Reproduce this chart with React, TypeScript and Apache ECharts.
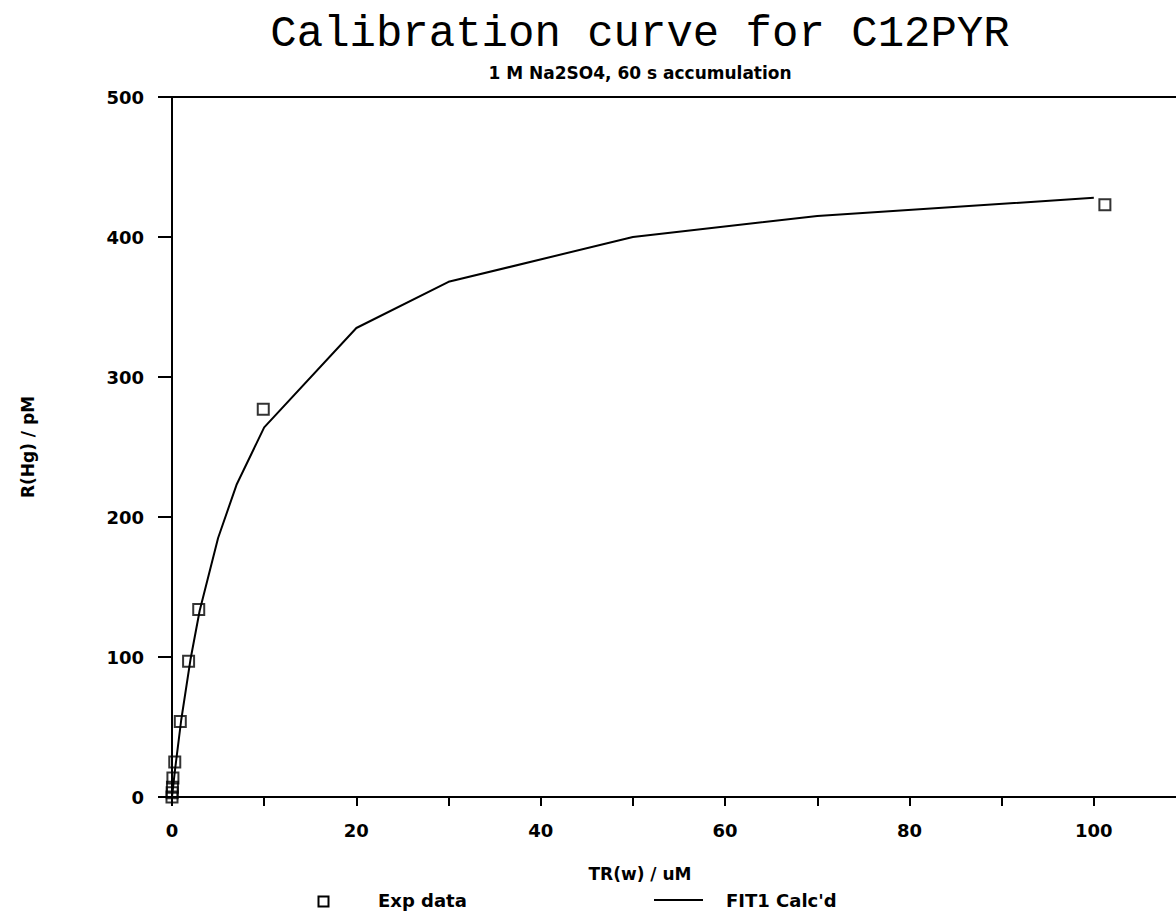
import React, { useEffect, useRef } from "react";
import * as echarts from "echarts";

// Experimental data (TR(w) in uM, R(Hg) in pM)
const expX = [101.2, 9.9, 2.9, 1.8, 0.9, 0.3, 0.1, 0.05, 0.02, 0];
const expY = [423, 277, 134, 97, 54, 25, 13.5, 7, 3, 0];

// FIT1 calculated curve
const fitX = [0, 0.3, 1, 2, 3, 5, 7, 10, 20, 30, 50, 70, 100];
const fitY = [0, 18, 55, 98, 133, 185, 223, 264, 335, 368, 400, 415, 428];

const xLabelValues = [0, 20, 40, 60, 80, 100];

const titleText = "Calibration curve for C12PYR";
const subtitleText = "1 M Na2SO4, 60 s accumulation";
const xName = "TR(w) / uM";
const yName = "R(Hg) / pM";
const legendExp = "Exp data";
const legendFit = "FIT1 Calc'd";

const SANS = "'DejaVu Sans', sans-serif";
const MONO = "'Liberation Mono', 'DejaVu Sans Mono', monospace";

export default function App() {
  const ref = useRef<HTMLDivElement>(null);

  useEffect(() => {
    if (!ref.current) return;
    const chart = echarts.init(ref.current, null, { renderer: "svg" });
    const labelStyle = {
      fontFamily: SANS,
      fontWeight: "bold" as const,
      fontSize: 18,
      color: "#000",
    };
    chart.setOption({
      animation: false,
      backgroundColor: "#fff",
      title: [
        {
          text: titleText,
          left: 640,
          top: 12,
          textAlign: "center",
          padding: 0,
          textStyle: {
            fontFamily: MONO,
            fontWeight: "normal",
            fontSize: 44,
            color: "#000",
          },
        },
        {
          text: subtitleText,
          left: 640,
          top: 64,
          textAlign: "center",
          padding: 0,
          textStyle: { ...labelStyle, fontSize: 17 },
        },
      ],
      grid: {
        left: 172,
        top: 97,
        width: 1014,
        height: 700,
        show: false,
      },
      xAxis: [
        {
          type: "value",
          min: 0,
          max: 110,
          interval: 10,
          name: xName,
          nameLocation: "middle",
          nameGap: 68,
          nameTextStyle: { ...labelStyle, fontSize: 17, padding: [0, 78, 0, 0] },
          axisLine: { show: true, lineStyle: { color: "#000", width: 2 } },
          axisTick: { show: true, length: 9, lineStyle: { color: "#000", width: 2 } },
          axisLabel: {
            ...labelStyle,
            margin: 24,
            showMaxLabel: false,
            formatter: (v: number) => (xLabelValues.indexOf(v) >= 0 ? String(v) : ""),
          },
          splitLine: { show: false },
        },
        {
          type: "value",
          position: "top",
          min: 0,
          max: 110,
          interval: 10,
          axisLine: { show: true, onZero: false, lineStyle: { color: "#000", width: 2 } },
          axisTick: { show: false },
          axisLabel: { show: false },
          splitLine: { show: false },
        },
      ],
      yAxis: {
        type: "value",
        min: 0,
        max: 500,
        interval: 100,
        name: yName,
        nameLocation: "middle",
        nameGap: 136,
        nameTextStyle: { ...labelStyle, fontSize: 17 },
        axisLine: { show: true, lineStyle: { color: "#000", width: 2 } },
        axisTick: { show: true, length: 14, lineStyle: { color: "#000", width: 2 } },
        axisLabel: { ...labelStyle, margin: 28 },
        splitLine: { show: false },
      },
      series: [
        {
          name: legendFit,
          type: "line",
          data: fitX.map((x, i) => [x, fitY[i]]),
          symbol: "none",
          lineStyle: { color: "#000", width: 2 },
          z: 2,
        },
        {
          name: legendExp,
          type: "scatter",
          data: expX.map((x, i) => [x, expY[i]]),
          symbol: "rect",
          symbolSize: 11,
          itemStyle: { color: "rgba(0,0,0,0)", borderColor: "#000", borderWidth: 2 },
          z: 3,
        },
      ],
      graphic: [
        {
          type: "rect",
          left: 316,
          top: 894,
          shape: { width: 10, height: 10 },
          style: { fill: "none", stroke: "#000", lineWidth: 2 },
        },
        {
          type: "text",
          left: 378,
          top: 891,
          style: { text: legendExp, font: "bold 18px 'DejaVu Sans'", fill: "#000" },
        },
        {
          type: "line",
          shape: { x1: 654, y1: 900, x2: 703, y2: 900 },
          style: { stroke: "#000", lineWidth: 2 },
        },
        {
          type: "text",
          left: 726,
          top: 891,
          style: { text: legendFit, font: "bold 18px 'DejaVu Sans'", fill: "#000" },
        },
      ],
    });
    return () => chart.dispose();
  }, []);

  return (
    <div
      style={{ position: "absolute", left: 0, top: 0, width: 1176, height: 916, overflow: "hidden" }}
    >
      <div ref={ref} style={{ width: 1200, height: 916 }} />
    </div>
  );
}
